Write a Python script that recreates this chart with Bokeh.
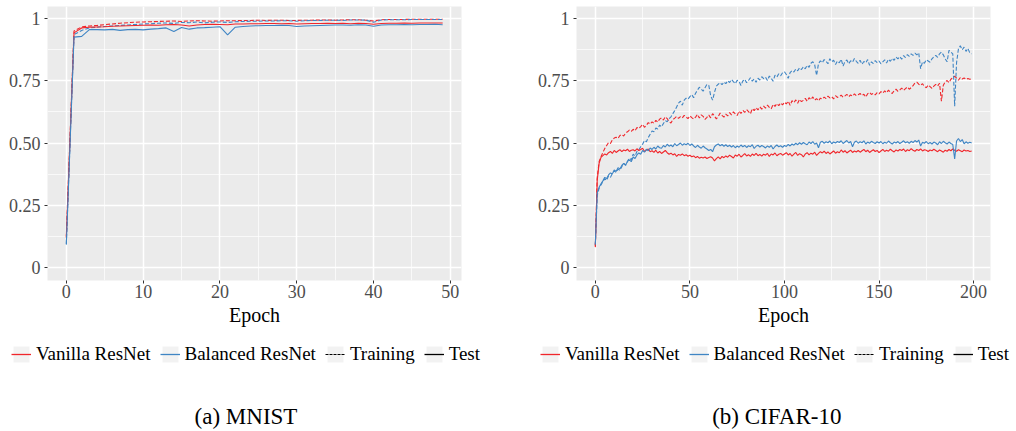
from bokeh.plotting import figure
from bokeh.models import FixedTicker, Range1d, Legend, LegendItem, Label
from bokeh.layouts import row, column
from bokeh.embed import file_html
from bokeh.resources import INLINE

# ---------------- data ----------------
mnist_epochs = list(range(50))
mnist_vanilla_train = [
    0.120, 0.950, 0.966, 0.970, 0.972, 0.975, 0.978, 0.981, 0.983, 0.985,
    0.986, 0.987, 0.988, 0.989, 0.990, 0.988, 0.990, 0.991, 0.990, 0.989,
    0.990, 0.991, 0.991, 0.992, 0.992, 0.993, 0.992, 0.993, 0.993, 0.992,
    0.992, 0.993, 0.993, 0.994, 0.994, 0.993, 0.994, 0.995, 0.995, 0.993,
    0.990, 0.995, 0.996, 0.996, 0.996, 0.997, 0.997, 0.997, 0.997, 0.997]
mnist_vanilla_test = [
    0.125, 0.942, 0.962, 0.965, 0.966, 0.967, 0.969, 0.970, 0.971, 0.972,
    0.973, 0.974, 0.973, 0.975, 0.976, 0.974, 0.970, 0.974, 0.976, 0.977,
    0.976, 0.975, 0.978, 0.978, 0.979, 0.979, 0.980, 0.980, 0.979, 0.980,
    0.978, 0.979, 0.980, 0.980, 0.981, 0.980, 0.981, 0.979, 0.981, 0.980,
    0.977, 0.980, 0.981, 0.981, 0.982, 0.981, 0.982, 0.982, 0.982, 0.982]
mnist_balanced_train = [
    0.095, 0.935, 0.952, 0.962, 0.965, 0.968, 0.970, 0.972, 0.974, 0.976,
    0.978, 0.979, 0.981, 0.982, 0.980, 0.984, 0.983, 0.986, 0.982, 0.985,
    0.986, 0.984, 0.987, 0.988, 0.989, 0.989, 0.990, 0.990, 0.991, 0.991,
    0.989, 0.991, 0.992, 0.992, 0.993, 0.993, 0.992, 0.994, 0.994, 0.993,
    0.985, 0.994, 0.995, 0.995, 0.995, 0.996, 0.996, 0.996, 0.996, 0.996]
mnist_balanced_test = [
    0.092, 0.925, 0.928, 0.955, 0.955, 0.954, 0.956, 0.952, 0.955, 0.956,
    0.954, 0.957, 0.959, 0.962, 0.948, 0.964, 0.957, 0.962, 0.963, 0.965,
    0.967, 0.934, 0.965, 0.968, 0.970, 0.971, 0.972, 0.972, 0.973, 0.972,
    0.968, 0.970, 0.971, 0.972, 0.973, 0.974, 0.974, 0.973, 0.975, 0.974,
    0.969, 0.974, 0.975, 0.975, 0.976, 0.975, 0.976, 0.976, 0.977, 0.975]

cifar_epochs = list(range(200))
cifar_vanilla_train = [
    0.085, 0.360, 0.425, 0.445, 0.462, 0.478, 0.490, 0.502, 0.498, 0.512,
    0.520, 0.523, 0.518, 0.530, 0.534, 0.528, 0.540, 0.545, 0.552, 0.547,
    0.555, 0.549, 0.562, 0.558, 0.566, 0.575, 0.563, 0.571, 0.582, 0.576,
    0.585, 0.579, 0.591, 0.584, 0.596, 0.601, 0.592, 0.605, 0.598, 0.585,
    0.580, 0.594, 0.600, 0.607, 0.599, 0.606, 0.601, 0.611, 0.604, 0.598,
    0.609, 0.602, 0.596, 0.604, 0.615, 0.600, 0.613, 0.607, 0.595, 0.603,
    0.612, 0.601, 0.618, 0.608, 0.597, 0.606, 0.620, 0.611, 0.604, 0.616,
    0.609, 0.622, 0.613, 0.625, 0.617, 0.610, 0.628, 0.619, 0.631, 0.623,
    0.634, 0.626, 0.617, 0.638, 0.630, 0.642, 0.633, 0.645, 0.636, 0.648,
    0.640, 0.652, 0.643, 0.637, 0.655, 0.647, 0.658, 0.650, 0.661, 0.653,
    0.664, 0.657, 0.668, 0.651, 0.670, 0.662, 0.673, 0.660, 0.675, 0.666,
    0.671, 0.679, 0.668, 0.682, 0.674, 0.685, 0.672, 0.678, 0.669, 0.680,
    0.676, 0.684, 0.678, 0.688, 0.681, 0.686, 0.677, 0.690, 0.683, 0.687,
    0.692, 0.684, 0.689, 0.695, 0.686, 0.693, 0.688, 0.697, 0.690, 0.694,
    0.699, 0.691, 0.696, 0.684, 0.698, 0.703, 0.695, 0.700, 0.693, 0.702,
    0.697, 0.706, 0.700, 0.709, 0.702, 0.712, 0.704, 0.699, 0.710, 0.716,
    0.707, 0.713, 0.720, 0.711, 0.718, 0.725, 0.716, 0.722, 0.730, 0.741,
    0.744, 0.736, 0.731, 0.738, 0.727, 0.722, 0.733, 0.726, 0.719, 0.728,
    0.735, 0.729, 0.740, 0.668, 0.732, 0.745, 0.751, 0.742, 0.756, 0.762,
    0.768, 0.760, 0.752, 0.763, 0.757, 0.761, 0.755, 0.759, 0.756, 0.757]
cifar_vanilla_test = [
    0.082, 0.350, 0.418, 0.442, 0.449, 0.456, 0.452, 0.461, 0.466, 0.458,
    0.470, 0.462, 0.468, 0.473, 0.465, 0.472, 0.469, 0.475, 0.466, 0.471,
    0.473, 0.468, 0.477, 0.470, 0.474, 0.479, 0.466, 0.472, 0.476, 0.465,
    0.469, 0.462, 0.471, 0.460, 0.466, 0.458, 0.464, 0.470, 0.461, 0.455,
    0.459, 0.452, 0.457, 0.446, 0.454, 0.451, 0.456, 0.449, 0.453, 0.447,
    0.451, 0.445, 0.448, 0.441, 0.446, 0.439, 0.443, 0.440, 0.444, 0.438,
    0.442, 0.445, 0.440, 0.428, 0.437, 0.444, 0.436, 0.446, 0.441, 0.448,
    0.443, 0.451, 0.446, 0.440, 0.452, 0.447, 0.455, 0.444, 0.450, 0.457,
    0.448, 0.453, 0.446, 0.456, 0.450, 0.458, 0.449, 0.454, 0.447, 0.455,
    0.451, 0.458, 0.446, 0.456, 0.452, 0.460, 0.449, 0.455, 0.458, 0.451,
    0.456, 0.461, 0.452, 0.458, 0.447, 0.455, 0.462, 0.450, 0.457, 0.453,
    0.444, 0.456, 0.461, 0.452, 0.459, 0.455, 0.463, 0.450, 0.458, 0.465,
    0.460, 0.467, 0.458, 0.464, 0.456, 0.462, 0.468, 0.459, 0.465, 0.461,
    0.472, 0.463, 0.469, 0.460, 0.466, 0.471, 0.462, 0.468, 0.464, 0.470,
    0.463, 0.469, 0.474, 0.465, 0.471, 0.462, 0.468, 0.473, 0.466, 0.470,
    0.461, 0.468, 0.474, 0.466, 0.471, 0.467, 0.475, 0.469, 0.464, 0.472,
    0.468, 0.474, 0.470, 0.476, 0.466, 0.473, 0.469, 0.477, 0.471, 0.467,
    0.474, 0.470, 0.476, 0.468, 0.473, 0.471, 0.466, 0.472, 0.469, 0.475,
    0.470, 0.465, 0.472, 0.468, 0.463, 0.471, 0.467, 0.474, 0.469, 0.476,
    0.471, 0.467, 0.473, 0.469, 0.465, 0.472, 0.468, 0.470, 0.466, 0.468]
cifar_balanced_train = [
    0.090, 0.290, 0.318, 0.332, 0.345, 0.357, 0.350, 0.368, 0.362, 0.378,
    0.388, 0.382, 0.395, 0.390, 0.405, 0.418, 0.410, 0.426, 0.440, 0.432,
    0.455, 0.448, 0.466, 0.472, 0.485, 0.495, 0.510, 0.505, 0.522, 0.535,
    0.548, 0.545, 0.560, 0.556, 0.572, 0.565, 0.578, 0.590, 0.585, 0.598,
    0.605, 0.618, 0.630, 0.645, 0.660, 0.668, 0.652, 0.672, 0.680, 0.676,
    0.686, 0.694, 0.682, 0.700, 0.712, 0.724, 0.716, 0.708, 0.722, 0.735,
    0.731, 0.690, 0.672, 0.703, 0.728, 0.736, 0.742, 0.734, 0.745, 0.738,
    0.750, 0.743, 0.755, 0.746, 0.738, 0.752, 0.747, 0.731, 0.749, 0.756,
    0.742, 0.751, 0.762, 0.748, 0.757, 0.744, 0.760, 0.753, 0.766, 0.758,
    0.764, 0.751, 0.769, 0.760, 0.748, 0.772, 0.765, 0.778, 0.770, 0.782,
    0.786, 0.775, 0.760, 0.783, 0.791, 0.785, 0.797, 0.790, 0.802, 0.795,
    0.806, 0.798, 0.812, 0.804, 0.820, 0.826, 0.814, 0.771, 0.819, 0.830,
    0.822, 0.835, 0.828, 0.818, 0.838, 0.826, 0.832, 0.815, 0.829, 0.822,
    0.836, 0.809, 0.827, 0.833, 0.818, 0.830, 0.824, 0.839, 0.828, 0.820,
    0.832, 0.816, 0.827, 0.822, 0.835, 0.812, 0.826, 0.819, 0.831, 0.823,
    0.829, 0.818, 0.826, 0.834, 0.821, 0.836, 0.828, 0.840, 0.832, 0.845,
    0.838, 0.847, 0.836, 0.851, 0.843, 0.855, 0.848, 0.858, 0.852, 0.861,
    0.854, 0.862, 0.798, 0.826, 0.820, 0.834, 0.829, 0.824, 0.838, 0.846,
    0.852, 0.844, 0.858, 0.865, 0.854, 0.838, 0.826, 0.872, 0.865, 0.858,
    0.648, 0.822, 0.878, 0.890, 0.874, 0.885, 0.868, 0.880, 0.862, 0.858]
cifar_balanced_test = [
    0.092, 0.300, 0.322, 0.336, 0.348, 0.362, 0.357, 0.372, 0.380, 0.376,
    0.392, 0.386, 0.401, 0.396, 0.410, 0.418, 0.412, 0.426, 0.432, 0.425,
    0.444, 0.438, 0.452, 0.460, 0.455, 0.470, 0.463, 0.475, 0.469, 0.480,
    0.474, 0.483, 0.476, 0.488, 0.481, 0.479, 0.490, 0.484, 0.495, 0.487,
    0.492, 0.485, 0.498, 0.489, 0.494, 0.500, 0.491, 0.497, 0.493, 0.499,
    0.490, 0.496, 0.488, 0.482, 0.491, 0.484, 0.479, 0.488, 0.481, 0.476,
    0.470, 0.474, 0.465, 0.485, 0.492, 0.496, 0.489, 0.494, 0.487, 0.493,
    0.486, 0.491, 0.484, 0.490, 0.481, 0.488, 0.483, 0.492, 0.485, 0.490,
    0.482, 0.489, 0.485, 0.493, 0.478, 0.487, 0.491, 0.484, 0.490, 0.486,
    0.480, 0.488, 0.483, 0.490, 0.476, 0.486, 0.492, 0.485, 0.489, 0.483,
    0.490, 0.486, 0.494, 0.488, 0.496, 0.491, 0.499, 0.493, 0.501, 0.495,
    0.502, 0.497, 0.493, 0.504, 0.498, 0.506, 0.495, 0.500, 0.481, 0.503,
    0.507, 0.499, 0.505, 0.501, 0.508, 0.497, 0.504, 0.500, 0.506, 0.502,
    0.509, 0.498, 0.504, 0.510, 0.500, 0.506, 0.485, 0.503, 0.508, 0.499,
    0.505, 0.501, 0.509, 0.496, 0.504, 0.499, 0.507, 0.502, 0.498, 0.505,
    0.500, 0.506, 0.497, 0.503, 0.499, 0.508, 0.501, 0.496, 0.504, 0.500,
    0.506, 0.498, 0.503, 0.509, 0.501, 0.505, 0.499, 0.507, 0.502, 0.510,
    0.504, 0.512, 0.488, 0.503, 0.499, 0.506, 0.497, 0.502, 0.496, 0.504,
    0.500, 0.493, 0.505, 0.498, 0.507, 0.501, 0.496, 0.504, 0.498, 0.494,
    0.436, 0.508, 0.518, 0.506, 0.514, 0.497, 0.505, 0.499, 0.503, 0.500]

y_ticks = [0, 0.25, 0.5, 0.75, 1]
y_tick_labels = ["0", "0.25", "0.50", "0.75", "1"]
y_minor = [0.125, 0.375, 0.625, 0.875]
mnist_x_ticks = [0, 10, 20, 30, 40, 50]
mnist_x_minor = [5, 15, 25, 35, 45]
cifar_x_ticks = [0, 50, 100, 150, 200]
cifar_x_minor = [25, 75, 125, 175]
model_names = ["Vanilla ResNet", "Balanced ResNet"]
phase_names = ["Training", "Test"]
captions = ["(a) MNIST", "(b) CIFAR-10"]
x_title = "Epoch"

# ---------------- style ----------------
FONT = "Liberation Serif"
RED = "#F0262B"
BLUE = "#3F85C4"
DASH = "4 2"
LW = 1.1
TOP_H = 331
BOT_H = 100
NAN = float("nan")


def make_panel(epochs, vt, vte, bt, bte, x_start, x_end, x_ticks, x_minor,
               width, border_left, border_right):
    p = figure(width=width, height=TOP_H, output_backend="svg", toolbar_location=None,
               x_range=Range1d(x_start, x_end), y_range=Range1d(-0.052, 1.048),
               min_border_left=border_left, min_border_right=border_right,
               min_border_top=6, min_border_bottom=TOP_H - 280)
    p.background_fill_color = "#EBEBEB"
    p.border_fill_color = "white"
    p.outline_line_color = None

    xt = FixedTicker(ticks=x_ticks, minor_ticks=x_minor)
    yt = FixedTicker(ticks=y_ticks, minor_ticks=y_minor)
    p.xaxis.ticker = xt
    p.yaxis.ticker = yt
    p.xgrid.ticker = xt
    p.ygrid.ticker = yt
    for g in (p.xgrid, p.ygrid):
        g.grid_line_color = "white"
        g.grid_line_width = 1.5
        g.minor_grid_line_color = "white"
        g.minor_grid_line_width = 0.7
    p.yaxis.major_label_overrides = {t: s for t, s in zip(y_ticks, y_tick_labels)}
    for ax in (p.xaxis, p.yaxis):
        ax.axis_line_color = None
        ax.major_tick_line_color = "#333333"
        ax.major_tick_out = 3
        ax.major_tick_in = 0
        ax.minor_tick_line_color = None
        ax.major_label_text_font = FONT
        ax.major_label_text_font_size = "18px"
        ax.major_label_text_color = "#4D4D4D"
    p.xaxis.major_label_standoff = 0
    p.yaxis.major_label_standoff = 3
    p.xaxis.axis_label = x_title
    p.xaxis.axis_label_text_font = FONT
    p.xaxis.axis_label_text_font_size = "20px"
    p.xaxis.axis_label_text_font_style = "normal"
    p.xaxis.axis_label_text_color = "black"
    p.xaxis.axis_label_standoff = 3

    p.line(epochs, vt, line_color=RED, line_width=LW, line_dash=DASH)
    p.line(epochs, bt, line_color=BLUE, line_width=LW, line_dash=DASH)
    p.line(epochs, vte, line_color=RED, line_width=LW)
    p.line(epochs, bte, line_color=BLUE, line_width=LW)
    return p


def make_footer(width, legend_x, caption, caption_x):
    f = figure(width=width, height=BOT_H, output_backend="svg", toolbar_location=None,
               x_range=Range1d(0, 1), y_range=Range1d(0, 1),
               x_axis_location=None, y_axis_location=None, min_border=0)
    f.grid.visible = False
    f.outline_line_color = None
    f.background_fill_color = "white"
    f.border_fill_color = "white"

    # legend keys: one NaN row each, so nothing is drawn in the frame
    def key_bg():
        return f.quad(left=[NAN], right=[NAN], top=[NAN], bottom=[NAN],
                      fill_color="#F2F2F2", line_color=None)
    k_red = f.line([NAN], [NAN], line_color=RED, line_width=1.3)
    k_blue = f.line([NAN], [NAN], line_color=BLUE, line_width=1.3)
    k_train = f.line([NAN], [NAN], line_color="black", line_width=1.1, line_dash="3 1")
    k_test = f.line([NAN], [NAN], line_color="black", line_width=1.3)

    items = [LegendItem(label=model_names[0], renderers=[key_bg(), k_red]),
             LegendItem(label=model_names[1], renderers=[key_bg(), k_blue]),
             LegendItem(label=phase_names[0], renderers=[key_bg(), k_train]),
             LegendItem(label=phase_names[1], renderers=[key_bg(), k_test])]
    lg = Legend(items=items, location=(legend_x, 66), orientation="horizontal",
                padding=0, margin=0, spacing=9, label_standoff=5,
                glyph_width=20, glyph_height=20,
                border_line_alpha=0, background_fill_alpha=0,
                label_text_font=FONT, label_text_font_size="19px",
                label_text_color="black")
    f.add_layout(lg)
    f.add_layout(Label(x=caption_x, y=15, x_units="screen", y_units="screen", text=caption,
                       text_align="center", text_baseline="middle",
                       text_font=FONT, text_font_size="23px", text_color="black"))
    return f


left = make_panel(mnist_epochs, mnist_vanilla_train, mnist_vanilla_test,
                  mnist_balanced_train, mnist_balanced_test,
                  -2.45, 51.45, mnist_x_ticks, mnist_x_minor, 508, 47, 47)
right = make_panel(cifar_epochs, cifar_vanilla_train, cifar_vanilla_test,
                   cifar_balanced_train, cifar_balanced_test,
                   -9.95, 208.95, cifar_x_ticks, cifar_x_minor, 508, 68, 26)
left_foot = make_footer(508, 11, captions[0], 245.5)
right_foot = make_footer(508, 32, captions[1], 268.3)

layout = column(row(left, right, spacing=0), row(left_foot, right_foot, spacing=0), spacing=0)
open("out.html", "w").write(file_html(layout, INLINE))
